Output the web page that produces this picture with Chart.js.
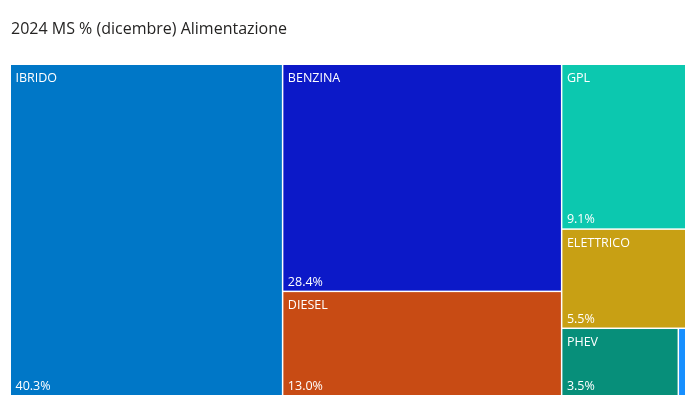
<!DOCTYPE html>
<html>
<head>
<meta charset="utf-8">
<script src="https://cdn.jsdelivr.net/npm/chart.js@4.4.1/dist/chart.umd.min.js"></script>
<style>
  html, body { margin: 0; padding: 0; background: #ffffff; }
  #wrap { width: 696px; height: 416px; position: relative; }
</style>
</head>
<body>
<div id="wrap"><canvas id="c"></canvas></div>
<script>
// ---- Data ----
const titleText = "2024 MS % (dicembre) Alimentazione";
const categories = ["IBRIDO", "BENZINA", "DIESEL", "GPL", "ELETTRICO", "PHEV", "ALTRO"];
const shares = [40.3, 28.4, 13.0, 9.1, 5.5, 3.5, 0.2];
const colors = ["#0077C7", "#0C19C8", "#C84B14", "#0CC8AF", "#C8A014", "#078F7A", "#168FFF"];

const FONT = "'Segoe UI', 'Open Sans', 'Noto Sans', sans-serif";

// Squarified treemap (golden-ratio variant) in abstract width/height units
function squarify(values, W, H) {
  const ratio = (1 + Math.sqrt(5)) / 2;
  const n = values.length;
  const rects = new Array(n);
  let x0 = 0, y0 = 0, x1 = W, y1 = H;
  let value = values.reduce((a, b) => a + b, 0);
  let i0 = 0, i1 = 0;
  while (i0 < n) {
    const dx = x1 - x0, dy = y1 - y0;
    let sumValue = values[i1++];
    let minValue = sumValue, maxValue = sumValue;
    const alpha = Math.max(dy / dx, dx / dy) / (value * ratio);
    let beta = sumValue * sumValue * alpha;
    let minRatio = Math.max(maxValue / beta, beta / minValue);
    for (; i1 < n; ++i1) {
      const v = values[i1];
      sumValue += v;
      if (v < minValue) minValue = v;
      if (v > maxValue) maxValue = v;
      beta = sumValue * sumValue * alpha;
      const newRatio = Math.max(maxValue / beta, beta / minValue);
      if (newRatio > minRatio) { sumValue -= v; break; }
      minRatio = newRatio;
    }
    const dice = dx < dy;
    if (dice) {
      const h = dy * sumValue / value;
      let cx = x0;
      for (let k = i0; k < i1; k++) {
        const w = dx * values[k] / sumValue;
        rects[k] = { x0: cx, y0: y0, x1: cx + w, y1: y0 + h };
        cx += w;
      }
      y0 += h;
    } else {
      const w = dx * sumValue / value;
      let cy = y0;
      for (let k = i0; k < i1; k++) {
        const h = dy * values[k] / sumValue;
        rects[k] = { x0: x0, y0: cy, x1: x0 + w, y1: cy + h };
        cy += h;
      }
      x0 += w;
    }
    value -= sumValue;
    i0 = i1;
  }
  return rects;
}

const treemapPlugin = {
  id: 'treemapCells',
  afterDatasetsDraw(chart) {
    const ctx = chart.ctx;
    const xs = chart.scales.x, ys = chart.scales.y;
    const area = chart.chartArea;
    const W = area.right - area.left, H = area.bottom - area.top;
    const rects = squarify(shares, W, H);
    const gap = 0.75;
    ctx.save();
    rects.forEach((r, i) => {
      // convert layout units to data units (0..100) and then through the scales
      const px0 = xs.getPixelForValue(r.x0 / W * 100);
      const px1 = xs.getPixelForValue(r.x1 / W * 100);
      const py0 = ys.getPixelForValue(r.y0 / H * 100);
      const py1 = ys.getPixelForValue(r.y1 / H * 100);
      const L = px0 + (r.x0 > 0.01 ? gap : 0);
      const R = px1 - (r.x1 < W - 0.01 ? gap : 0);
      const T = py0 + (r.y0 > 0.01 ? gap : 0);
      const B = py1 - (r.y1 < H - 0.01 ? gap : 0);
      ctx.fillStyle = colors[i];
      ctx.fillRect(L, T, R - L, B - T);
      if (R - L > 40 && B - T > 40) {
        ctx.fillStyle = '#ffffff';
        ctx.font = "12.5px " + FONT;
        ctx.textAlign = 'left';
        ctx.textBaseline = 'alphabetic';
        ctx.fillText(categories[i], L + 4.5, T + 17);
        ctx.fillText(shares[i].toFixed(1) + '%', L + 4.5, B - 5);
      }
    });
    ctx.restore();
  }
};

new Chart(document.getElementById('c'), {
  type: 'scatter',
  data: { datasets: [{ data: [], label: 'cells' }] },
  options: {
    responsive: true,
    maintainAspectRatio: false,
    animation: false,
    layout: { padding: { left: 11, right: 11, top: 0, bottom: 21 } },
    scales: {
      x: { type: 'linear', min: 0, max: 100, display: false },
      y: { type: 'linear', min: 0, max: 100, reverse: true, display: false }
    },
    plugins: {
      legend: { display: false },
      tooltip: { enabled: false },
      title: {
        display: true,
        text: titleText,
        align: 'start',
        color: '#252423',
        font: { family: FONT, size: 16, weight: 'normal' },
        padding: { top: 20, bottom: 25.8 }
      }
    }
  },
  plugins: [treemapPlugin]
});
</script>
</body>
</html>
